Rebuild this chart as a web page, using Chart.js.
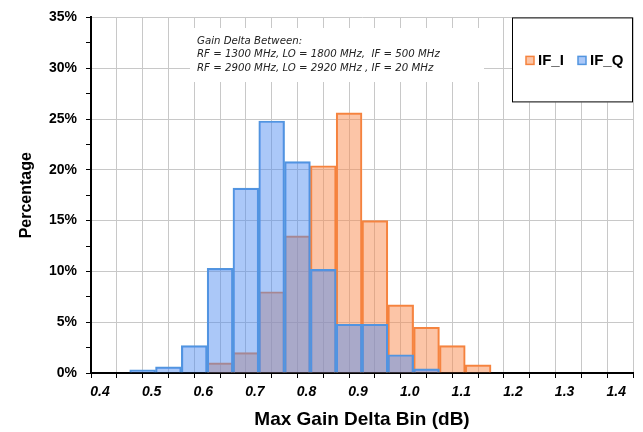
<!DOCTYPE html>
<html>
<head>
<meta charset="utf-8">
<script src="https://cdn.jsdelivr.net/npm/chart.js@4"></script>
<style>
  body { margin: 0; background: #fff; }
</style>
</head>
<body>
<canvas id="histChart" width="643" height="432"></canvas>
<script>
// histogram bins (centre of each 0.05 dB bin) and percentages
const binCenters = [0.5, 0.55, 0.6, 0.65, 0.7, 0.75, 0.8, 0.85, 0.9, 0.95, 1.0, 1.05, 1.1, 1.15];
const ifI = [0, 0, 0, 1.0, 2.0, 8.0, 13.5, 20.4, 25.6, 15.0, 6.7, 4.5, 2.7, 0.8];
const ifQ = [0.3, 0.6, 2.7, 10.3, 18.2, 24.8, 20.8, 10.2, 4.8, 4.8, 1.8, 0.4, 0, 0];
const seriesNames = ['IF_I', 'IF_Q'];
const noteLines = [
  'Gain Delta Between:',
  'RF = 1300 MHz, LO = 1800 MHz,  IF = 500 MHz',
  'RF = 2900 MHz, LO = 2920 MHz , IF = 20 MHz'
];

const orangeFill = 'rgba(250, 140, 80, 0.5)';
const orangeLine = '#f5833e';
const blueFill = 'rgba(80, 140, 240, 0.48)';
const blueLine = '#5295df';

// note box + legend box are drawn by hand, like the Excel original
const boxesPlugin = {
  id: 'boxes',
  beforeDatasetsDraw(chart) {
    const ctx = chart.ctx;
    ctx.save();
    ctx.fillStyle = '#fff';
    ctx.fillRect(190, 28, 294, 54);
    ctx.fillStyle = '#222';
    ctx.font = 'italic 10.2px "DejaVu Sans"';
    ctx.textBaseline = 'middle';
    noteLines.forEach((line, i) => ctx.fillText(line, 197, 41 + i * 13.5));
    ctx.restore();
  },
  afterDraw(chart) {
    const ctx = chart.ctx;
    const area = chart.chartArea;
    const x0 = area.right - 121, y0 = area.top;
    ctx.save();
    ctx.fillStyle = '#fff';
    ctx.fillRect(x0, y0, 121, 85);
    ctx.strokeStyle = '#000';
    ctx.lineWidth = 1;
    ctx.strokeRect(x0 + 0.5, y0 + 0.5, 120, 84);
    ctx.font = 'bold 15px "Liberation Sans", Arial';
    ctx.textBaseline = 'middle';
    const items = [
      { x: x0 + 14, fill: orangeFill, line: orangeLine, text: seriesNames[0] },
      { x: x0 + 66, fill: blueFill, line: blueLine, text: seriesNames[1] }
    ];
    items.forEach(it => {
      ctx.fillStyle = it.fill;
      ctx.fillRect(it.x, y0 + 39, 8, 8);
      ctx.strokeStyle = it.line;
      ctx.lineWidth = 1.5;
      ctx.strokeRect(it.x, y0 + 39, 8, 8);
      ctx.fillStyle = '#000';
      ctx.fillText(it.text, it.x + 12, y0 + 43.5);
    });
    ctx.restore();
  }
};

const tickFont = { family: '"Liberation Sans", Arial', size: 14, weight: 'bold' };

new Chart(document.getElementById('histChart').getContext('2d'), {
  type: 'bar',
  data: {
    datasets: [{
      label: seriesNames[0],
      data: binCenters.map((x, i) => ({ x: x, y: ifI[i] })),
      backgroundColor: orangeFill,
      borderColor: orangeLine,
      borderWidth: 1.5,
      order: 1
    }, {
      label: seriesNames[1],
      data: binCenters.map((x, i) => ({ x: x, y: ifQ[i] })),
      backgroundColor: blueFill,
      borderColor: blueLine,
      borderWidth: 1.5,
      order: 0
    }]
  },
  options: {
    responsive: false,
    animation: false,
    grouped: false,
    barPercentage: 1,
    categoryPercentage: 1,
    layout: { padding: { top: 15, right: 10, left: 0, bottom: 0 } },
    plugins: {
      legend: { display: false },
      tooltip: { enabled: false }
    },
    scales: {
      x: {
        type: 'linear',
        min: 0.4,
        max: 1.45,
        offset: false,
        afterFit: s => { s.height = 59; },
        border: { color: '#000', width: 2 },
        grid: { offset: false, color: '#c8c8c8', tickColor: '#000', tickLength: 5 },
        ticks: {
          stepSize: 0.05,
          autoSkip: false,
          maxRotation: 0,
          minRotation: 0,
          padding: 6,
          labelOffset: 9,
          color: '#000',
          font: { family: '"Liberation Sans", Arial', size: 14, weight: 'bold', style: 'italic' },
          callback: v => Math.abs(Math.round(v * 10) - v * 10) < 1e-6 ? v.toFixed(1) : ''
        },
        title: {
          display: true,
          text: 'Max Gain Delta Bin (dB)',
          color: '#000',
          font: { family: '"Liberation Sans", Arial', size: 19, weight: 'bold' },
          padding: { top: 0, bottom: 1 }
        }
      },
      y: {
        min: 0,
        max: 35,
        afterFit: s => { s.width = 91; },
        border: { color: '#000', width: 2 },
        grid: {
          color: c => (c.tick && c.tick.value % 5 === 0) ? '#c8c8c8' : 'rgba(0,0,0,0)',
          tickColor: '#000',
          tickLength: 5
        },
        ticks: {
          stepSize: 2.5,
          padding: 9,
          color: '#000',
          font: tickFont,
          callback: v => v % 5 === 0 ? v + '%' : ''
        },
        title: {
          display: true,
          text: 'Percentage',
          color: '#000',
          font: { family: '"Liberation Sans", Arial', size: 16, weight: 'bold' },
          padding: { top: 17, bottom: 0 }
        }
      }
    }
  },
  plugins: [boxesPlugin]
});
</script>
</body>
</html>
